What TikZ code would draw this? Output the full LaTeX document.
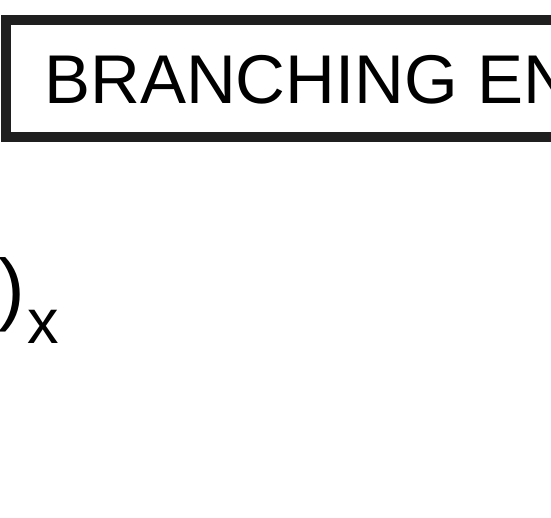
\documentclass[tikz,border=0pt]{standalone}
\usepackage{fontspec}
\setmainfont{Liberation Sans}
\usetikzlibrary{positioning}
\tikzset{
  bigtext/.style = {font=\fontsize{69}{80}\selectfont, inner sep=0pt},
  frame/.style   = {draw=black!88, line width=10pt}
}

\begin{document}
\begin{tikzpicture}[x=1pt, y=-1pt]
  \useasboundingbox (0,0) rectangle (551,517);
  \clip (0,0) rectangle (551,517);

  \node[bigtext, anchor=base west] (title) at (44,103) {BRANCHING EN};
  \draw[frame] (6,20) rectangle (800,137);

  \node[bigtext, font=\fontsize{80}{90}\selectfont, anchor=base east] (paren) at (25,315) {)};
  \node[bigtext, font=\fontsize{63}{70}\selectfont, anchor=base west] (sub) at (27,343) {x};
\end{tikzpicture}
\end{document}
